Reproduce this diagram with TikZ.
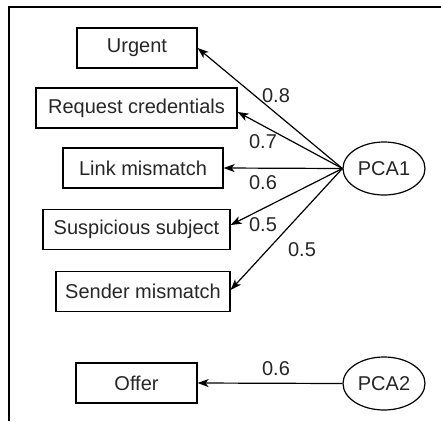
\documentclass[tikz,border=0pt]{standalone}
\usepackage{fontspec}
\setmainfont{Liberation Sans}
\usetikzlibrary{arrows.meta,shapes.geometric}
\begin{document}
\begin{tikzpicture}[x=1pt,y=-1pt,
  box/.style={draw=black,line width=1.2pt,rectangle,inner sep=0pt,minimum height=40pt,font=\fontsize{20}{23}\selectfont,text=black!85},
  pca/.style={draw=black,line width=1.2pt,ellipse,inner sep=0pt,minimum width=82pt,minimum height=53pt,font=\fontsize{20}{23}\selectfont,text=black!85},
  link/.style={draw=black,line width=1.2pt,-{Stealth[length=11pt,width=8pt,inset=3pt]}},
  lbl/.style={font=\fontsize{20}{23}\selectfont,text=black!85,inner sep=0pt}]
\useasboundingbox (0,0) rectangle (441,421);
\draw[line width=2pt] (9,421) -- (9,7) -- (441,7);
\node[box,minimum width=120pt] (urgent) at (137,48) {Urgent};
\node[box,minimum width=201pt] (request) at (136.5,108) {Request credentials};
\node[box,minimum width=160pt] (linkm) at (143,168) {Link mismatch};
\node[box,minimum width=187pt] (susp) at (136.5,229.5) {Suspicious subject};
\node[box,minimum width=174pt] (sender) at (143,291.5) {Sender mismatch};
\node[box,minimum width=121pt] (offer) at (136.5,383) {Offer};
\node[pca] (pca1) at (384,168.5) {PCA1};
\node[pca] (pca2) at (384,383.5) {PCA2};
\draw[link] (pca1.west) -- (urgent.east);
\draw[link] (pca1.west) -- ([yshift=-4pt]request.east);
\draw[link] (pca1.west) -- (linkm.east);
\draw[link] (pca1.west) -- ([yshift=4.5pt]susp.east);
\draw[link] (pca1.west) -- ([yshift=1.5pt]sender.east);
\draw[link] (pca2.west) -- (offer.east);
\node[lbl] (l1) at (276,96) {0.8};
\node[lbl] (l2) at (263,142) {0.7};
\node[lbl] (l3) at (263,183) {0.6};
\node[lbl] (l4) at (263,225) {0.5};
\node[lbl] (l5) at (302,250) {0.5};
\node[lbl] (l6) at (276,369) {0.6};
\end{tikzpicture}
\end{document}
